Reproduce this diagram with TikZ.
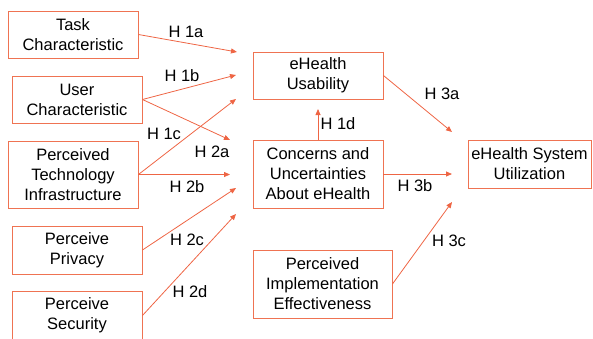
\documentclass[tikz,border=0pt]{standalone}
\usepackage{fontspec}
\setmainfont{Liberation Sans}
\usepackage{tikz}
\usetikzlibrary{arrows.meta,positioning}
\definecolor{EdgeOrange}{HTML}{EF7352}
\definecolor{LineOrange}{HTML}{EE6544}
\tikzset{
  HB/.style={rectangle,draw=EdgeOrange,line width=0.9pt,fill=white,
             minimum width=130pt,minimum height=47pt,inner sep=2pt,
             text centered,align=center,
             font=\fontsize{16.5}{20}\selectfont},
  arr/.style={-{Triangle[length=6pt,width=5pt]},draw=LineOrange,line width=0.8pt},
  hyp/.style={font=\fontsize{16.5}{20}\selectfont,inner sep=0pt}
}
\begin{document}
\begin{tikzpicture}[x=1pt,y=-1pt]
  \useasboundingbox (0,0) rectangle (593,338);
  \clip (0,0) rectangle (593,338);

  % Antecedents
  \node[HB] (task) at (73,34.5) {Task\\Characteristic};
  \node[HB] (user) at (77,99.5) {User\\Characteristic};
  \node[HB,minimum height=67pt] (infra) at (73,174.5) {Perceived\\Technology\\Infrastructure};
  \node[HB,minimum height=48pt] (privacy) at (77,250) {Perceive\\Privacy};
  \node[HB,minimum height=48pt] (security) at (77,315.5) {Perceive\\Security};

  % Mediators
  \node[HB] (usability) at (318,75.5) {eHealth\\Usability};
  \node[HB,minimum height=68pt] (concerns) at (318,174) {Concerns and\\Uncertainties\\About eHealth};
  \node[HB,minimum width=139pt,minimum height=68pt] (implement) at (322.5,284) {Perceived\\Implementation\\Effectiveness};

  % Outcome
  \node[HB,minimum width=123pt,minimum height=48pt] (utilization) at (529.5,164) {eHealth System\\Utilization};

  % arrow ends
  \coordinate (u1) at (237,52);
  \coordinate (u2) at (236,75);
  \coordinate (u3) at (236,99);
  \coordinate (c1) at (230,140);
  \coordinate (c2) at (230,174.5);
  \coordinate (c3) at (236,188);
  \coordinate (c4) at (236,214);
  \coordinate (d1) at (318,109);
  \coordinate (s1) at (452,132);
  \coordinate (s2) at (452,174);
  \coordinate (s3) at (452,202);

  \draw[arr] (task.east) -- (u1);
  \draw[arr] (user.east) -- (u2);
  \draw[arr] (infra.east) -- (u3);
  \draw[arr] (user.east) -- (c1);
  \draw[arr] (infra.east) -- (c2);
  \draw[arr] (privacy.east) -- (c3);
  \draw[arr] (security.east) -- (c4);
  \draw[arr] (concerns.north) -- (d1);
  \draw[arr] (usability.east) -- (s1);
  \draw[arr] (concerns.east) -- (s2);
  \draw[arr] (implement.east) -- (s3);

  % hypotheses
  \node[hyp] (h1a) at (186,32) {H 1a};
  \node[hyp] (h1b) at (182,76) {H 1b};
  \node[hyp] (h1c) at (164,134) {H 1c};
  \node[hyp] (h2a) at (212,152) {H 2a};
  \node[hyp] (h2b) at (187,187) {H 2b};
  \node[hyp] (h2c) at (187,240) {H 2c};
  \node[hyp] (h2d) at (190,292) {H 2d};
  \node[hyp] (h1d) at (338,124) {H 1d};
  \node[hyp] (h3a) at (442,94) {H 3a};
  \node[hyp] (h3b) at (415,186) {H 3b};
  \node[hyp] (h3c) at (449,241) {H 3c};
\end{tikzpicture}
\end{document}
